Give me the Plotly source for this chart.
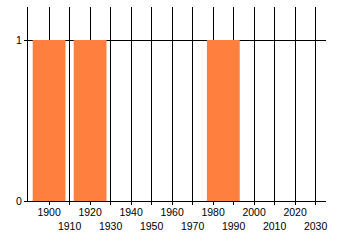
import plotly.graph_objects as go

years = [1900, 1920, 1985]
values = [1, 1, 1]
upper_ticks = [1900, 1920, 1940, 1960, 1980, 2000, 2020]
lower_ticks = [1910, 1930, 1950, 1970, 1990, 2010, 2030]
all_ticks = sorted(upper_ticks + lower_ticks)
y_ticks = [0, 1]

font = dict(family="Liberation Sans, Arial, sans-serif", size=10.5, color="black")

fig = go.Figure()
fig.add_trace(go.Bar(x=years, y=values, marker=dict(color="#FF7F3F", line=dict(width=0)),
                     showlegend=False))
# invisible trace for the second x axis
fig.add_trace(go.Scatter(x=[lower_ticks[0]], y=[0], xaxis="x2", mode="markers",
                         marker=dict(opacity=0), showlegend=False, hoverinfo="skip"))

xrange = [1889.7, 2035.1]
fig.update_layout(
    width=340, height=245,
    margin=dict(l=28, r=14, t=7, b=44),
    paper_bgcolor="white", plot_bgcolor="white",
    bargap=0.2,
    font=font,
    xaxis=dict(range=xrange, tickvals=all_ticks,
               ticktext=[str(t) if t in upper_ticks else "" for t in all_ticks],
               showgrid=True, gridcolor="black", gridwidth=1,
               showline=True, linecolor="black", linewidth=1,
               ticks="outside", ticklen=3, tickcolor="black",
               ticklabelstandoff=-2,
               zeroline=False, tickfont=font),
    xaxis2=dict(range=xrange, overlaying="x", anchor="y", side="bottom",
                tickvals=lower_ticks, ticktext=[str(t) for t in lower_ticks],
                showgrid=False, showline=False, ticks="", zeroline=False,
                ticklabelstandoff=17, tickfont=font),
    yaxis=dict(range=[0, 1.205], tickvals=y_ticks, ticktext=[str(t) for t in y_ticks],
               showgrid=True, gridcolor="black", gridwidth=1,
               showline=True, linecolor="black", linewidth=1,
               ticks="outside", ticklen=3, tickcolor="black",
               zeroline=False, tickfont=font),
)
fig.write_html("out.html")
